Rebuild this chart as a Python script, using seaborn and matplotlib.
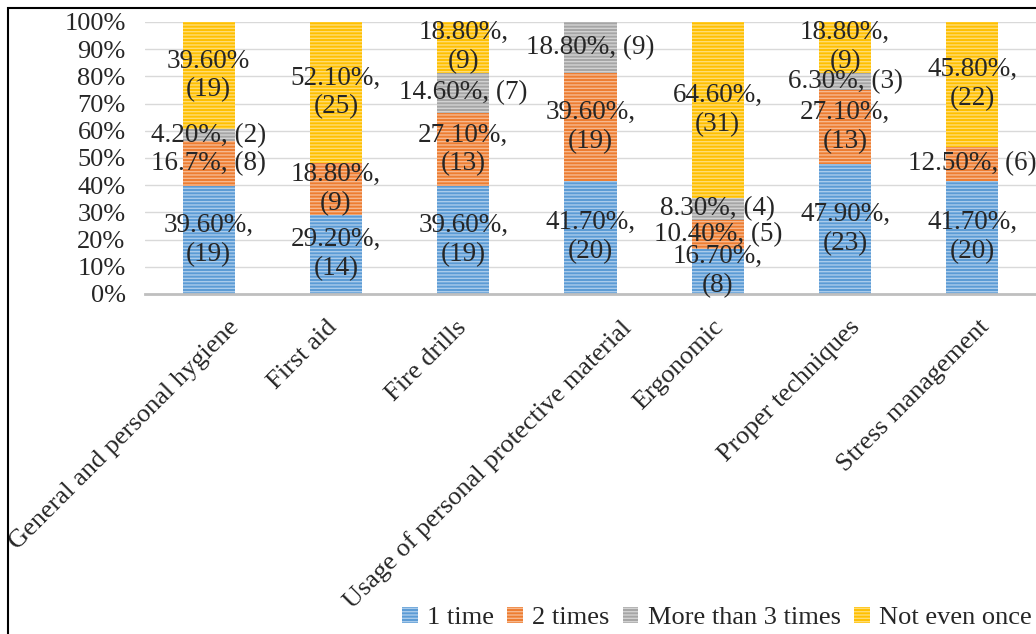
"""
Training frequency per topic - 100% stacked bar chart
"""

import matplotlib
matplotlib.use('Agg')
import matplotlib.pyplot as plt
import matplotlib.transforms as mtransforms
from matplotlib.patches import Rectangle
from matplotlib.ticker import FuncFormatter
import seaborn as sns

# Data
topics = ['General and personal hygiene', 'First aid', 'Fire drills',
          'Usage of personal protective material', 'Ergonomic',
          'Proper techniques', 'Stress management']

one_time = [39.6, 29.2, 39.6, 41.7, 16.7, 47.9, 41.7]
two_times = [16.7, 18.8, 27.1, 39.6, 10.4, 27.1, 12.5]
more_than_3 = [4.2, 0.0, 14.6, 18.8, 8.3, 6.3, 0.0]
not_once = [39.6, 52.1, 18.8, 0.0, 64.6, 18.8, 45.8]

one_time_labels = ['39.60%,\n(19)', '29.20%,\n(14)', '39.60%,\n(19)', '41.70%,\n(20)',
                   '16.70%,\n(8)', '47.90%,\n(23)', '41.70%,\n(20)']
two_times_labels = ['16.7%, (8)', '18.80%,\n(9)', '27.10%,\n(13)', '39.60%,\n(19)',
                    '10.40%, (5)', '27.10%,\n(13)', '12.50%, (6)']
more_than_3_labels = ['4.20%, (2)', '', '14.60%, (7)', '18.80%, (9)',
                      '8.30%, (4)', '6.30%, (3)', '']
not_once_labels = ['39.60%\n(19)', '52.10%,\n(25)', '18.80%,\n(9)', '',
                   '64.60%,\n(31)', '18.80%,\n(9)', '45.80%,\n(22)']

series = [
    ('1 time', one_time, one_time_labels, '#5B9BD5', '#A9CBEB'),
    ('2 times', two_times, two_times_labels, '#ED7D31', '#F6B88F'),
    ('More than 3 times', more_than_3, more_than_3_labels, '#A5A5A5', '#D2D2D2'),
    ('Not even once', not_once, not_once_labels, '#FFC000', '#FFDC73'),
]

sns.set_style('white')
plt.rcParams['font.family'] = ['Liberation Serif', 'DejaVu Serif']
plt.rcParams['hatch.linewidth'] = 1.0

fig = plt.figure(figsize=(10.36, 6.34), dpi=100)
ax = fig.add_axes([145 / 1036, 1 - 294 / 634, (1036 - 145) / 1036, (294 - 22) / 634])

bottom = [0.0] * len(topics)
for name, vals, labels, color, stripe in series:
    sns.barplot(x=topics, y=vals, bottom=bottom, color=color, saturation=1,
                width=0.41, hatch='-----', edgecolor=stripe, linewidth=0,
                label=name, ax=ax, zorder=2)
    for i, (v, lab) in enumerate(zip(vals, labels)):
        if lab:
            ax.text(i, bottom[i] + v / 2, lab, ha='center', va='center',
                    fontsize=19.5, linespacing=1.2, clip_on=False, zorder=5)
    bottom = [b + v for b, v in zip(bottom, vals)]

ax.set_ylim(0, 100)
ax.set_yticks(range(0, 101, 10))
ax.yaxis.set_major_formatter(FuncFormatter(lambda y, _: f'{int(y)}%'))
ax.grid(axis='y', color='#D9D9D9', linewidth=1, zorder=0)
ax.set_axisbelow(True)
for s in ['left', 'right', 'top']:
    ax.spines[s].set_visible(False)
ax.spines['bottom'].set_color('#BFBFBF')
ax.spines['bottom'].set_linewidth(2)
ax.tick_params(axis='y', length=0, pad=14, labelsize=19)
ax.tick_params(axis='x', length=0, pad=16, labelsize=19)
ax.set_xlabel('')
ax.set_ylabel('')

# rotated category labels; longer labels sit a bit further right, as in the source
for lab in ax.get_xticklabels():
    lab.set_rotation(45)
    lab.set_ha('right')
fig.canvas.draw()
renderer = fig.canvas.get_renderer()
for lab in ax.get_xticklabels():
    w = lab.get_window_extent(renderer).width
    dx = 0.18 * w - 8
    lab.set_transform(lab.get_transform() +
                      mtransforms.ScaledTranslation(dx / 100, 0, fig.dpi_scale_trans))

handles, names = ax.get_legend_handles_labels()
fig.legend(handles, names, ncol=4, loc='center right',
           bbox_to_anchor=(1.006, 16 / 634), frameon=False,
           fontsize=19, handlelength=0.6, handleheight=0.6,
           handletextpad=0.35, columnspacing=0.5, borderaxespad=0)
if ax.get_legend() is not None:
    ax.get_legend().remove()

# outer frame, cut off on the right and bottom like the reference
fig.patches.append(Rectangle((8 / 1036, -0.05), 1.1, 1 - 8 / 634 + 0.05,
                             transform=fig.transFigure, fill=False,
                             edgecolor='black', linewidth=1.5))

plt.savefig('out.png', dpi=100)
plt.close()
